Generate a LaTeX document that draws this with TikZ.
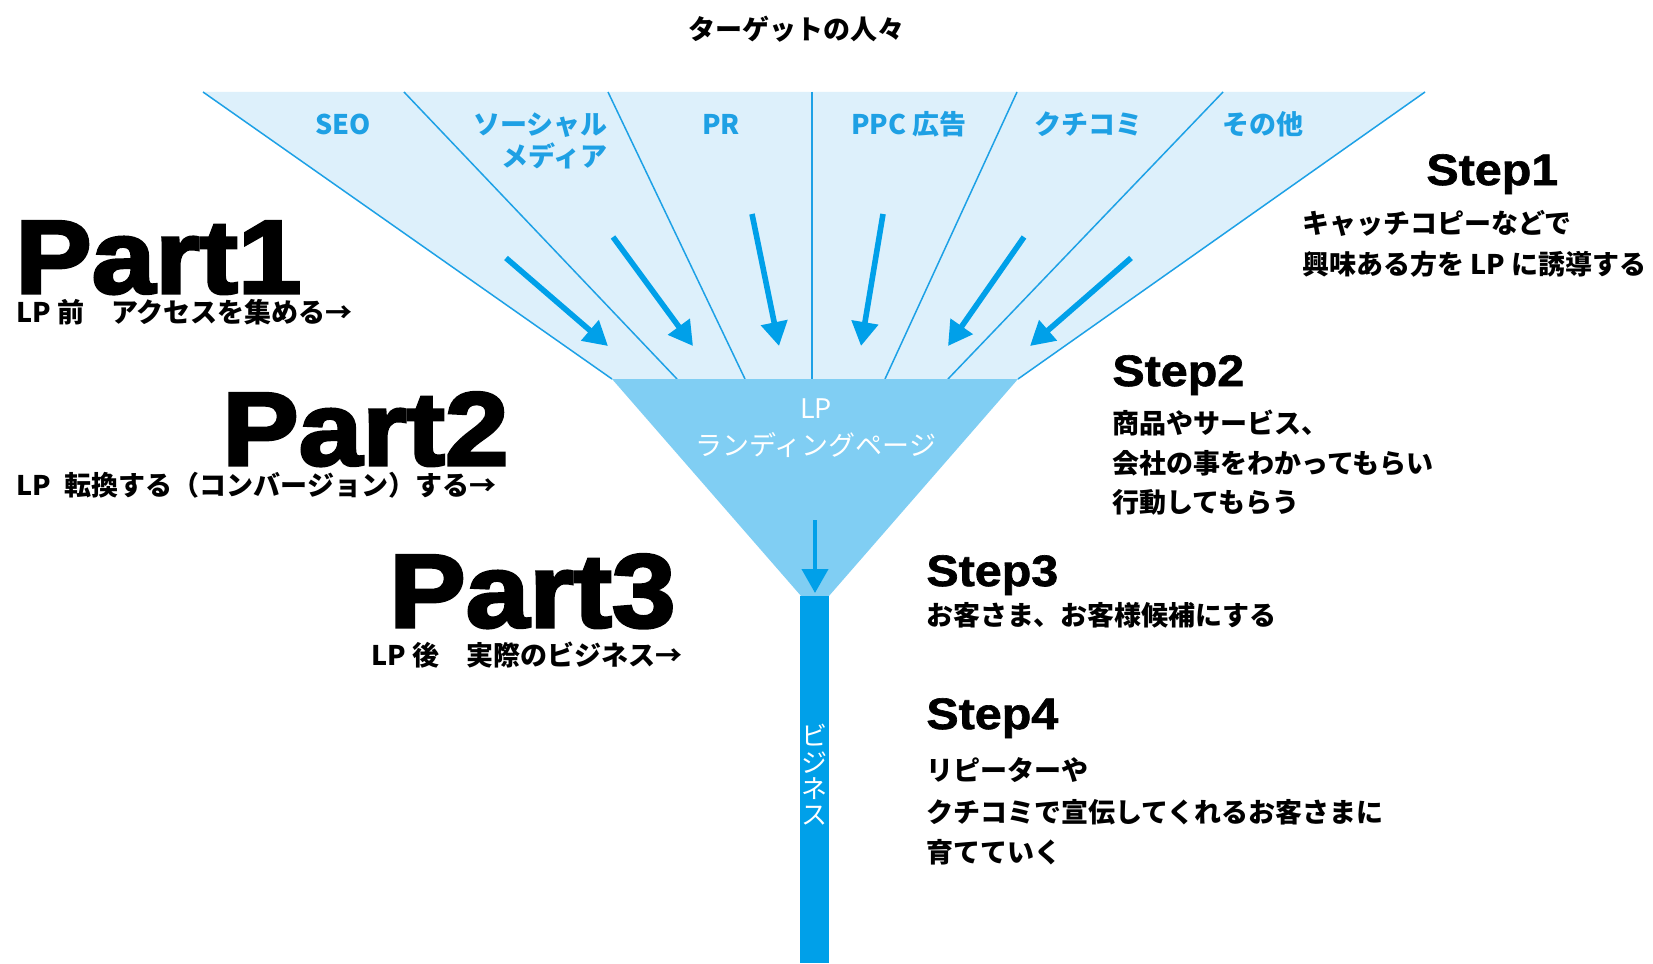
\documentclass[tikz,border=0pt]{standalone}
\usepackage{fontspec}
\usetikzlibrary{arrows.meta}
\setmainfont{Noto Sans CJK JP}
\newfontfamily\heavy[FakeBold=3,FakeStretch=1.1]{Liberation Sans Bold}
\newfontfamily\stepfont[FakeBold=1.5,FakeStretch=1.1]{Liberation Sans Bold}
\definecolor{funnelline}{HTML}{1DA1E6}
\definecolor{lightfill}{HTML}{DDF0FB}
\definecolor{lpfill}{HTML}{80CEF3}
\definecolor{mainblue}{HTML}{00A0E9}
\definecolor{chanblue}{HTML}{1EA0E4}
\begin{document}
\begin{tikzpicture}[x=0.5pt,y=-0.5pt,
  jp/.style={font=\fontsize{13.5}{16}\selectfont\bfseries, inner sep=0pt, text=black},
  chan/.style={font=\fontsize{13.5}{16}\selectfont\bfseries, inner sep=0pt, text=chanblue},
  white txt/.style={font=\fontsize{13.5}{16}\selectfont, inner sep=0pt, text=white},
  parttitle/.style={font=\heavy\fontsize{52}{52}\selectfont, inner sep=0pt, anchor=base west, text depth=0pt},
  steptitle/.style={font=\stepfont\fontsize{22}{22}\selectfont, inner sep=0pt, anchor=base west},
  fline/.style={draw=funnelline, line width=0.75pt},
  bigarrow/.style={draw=mainblue, line width=2.8pt, -{Triangle[width=13pt,length=12pt]}},
  smallarrow/.style={draw=mainblue, line width=2pt, -{Triangle[width=13pt,length=12pt]}}]
\fill[white] (0,0) rectangle (1653,963);
\useasboundingbox (0,0) rectangle (1653,963);

% funnel coordinates
\coordinate (t0) at (203,92);  \coordinate (b0) at (612,379);
\coordinate (t1) at (404,92);  \coordinate (b1) at (677,379);
\coordinate (t2) at (608,92);  \coordinate (b2) at (745,379);
\coordinate (t3) at (812,92);  \coordinate (b3) at (812,379);
\coordinate (t4) at (1017,92); \coordinate (b4) at (885,379);
\coordinate (t5) at (1223,92); \coordinate (b5) at (948,379);
\coordinate (t6) at (1425,92); \coordinate (b6) at (1018,379);
\coordinate (apex) at (815,612);

% upper light region
\fill[lightfill] (t0) -- (t6) -- (b6) -- (b0) -- cycle;
\foreach \i in {0,...,6}{\draw[fline] (t\i) -- (b\i);}

% LP triangle
\fill[lpfill] (b0) -- (b6) -- (apex) -- cycle;

% stem
\fill[mainblue] (800,596) rectangle (829,963);

% big arrows
\coordinate (a1s) at (506,258);  \coordinate (a1e) at (608,346);
\coordinate (a2s) at (613,237);  \coordinate (a2e) at (693,346);
\coordinate (a3s) at (752,214);  \coordinate (a3e) at (779,346);
\coordinate (a4s) at (883,214);  \coordinate (a4e) at (861,346);
\coordinate (a5s) at (1024,237); \coordinate (a5e) at (948,346);
\coordinate (a6s) at (1131,258); \coordinate (a6e) at (1030,346);
\foreach \i in {1,...,6}{\draw[bigarrow] (a\i s) -- (a\i e);}

% LP arrow
\coordinate (ls) at (815,520); \coordinate (le) at (815,593);
\draw[smallarrow] (ls) -- (le);

% title
\node[jp, anchor=base] (title) at (796,40) {ターゲットの人々};

% channel labels
\node[chan, anchor=base] (seo) at (343,134) {SEO};
\node[chan, anchor=base east] (social1) at (608,134) {ソーシャル};
\node[chan, anchor=base east] (social2) at (608,166) {メディア};
\node[chan, anchor=base] (pr) at (721,134) {PR};
\node[chan, anchor=base] (ppc) at (909,134) {PPC 広告};
\node[chan, anchor=base] (kuchi) at (1088,134) {クチコミ};
\node[chan, anchor=base] (other) at (1263,134) {その他};

% LP text
\node[white txt, anchor=base] (lp1) at (816,418) {LP};
\node[white txt, anchor=base] (lp2) at (816,455) {ランディングページ};

% business
\node[white txt, align=center, font=\fontsize{13}{13.2}\selectfont] (biz) at (814,775) {ビ\\ジ\\ネ\\ス};

% parts
\node[parttitle] (part1) at (15,293) {Part1};
\node[jp, anchor=base west] (part1s) at (16,322) {LP 前　アクセスを集める→};
\node[parttitle] (part2) at (222,465) {Part2};
\node[jp, anchor=base west] (part2s) at (16,495) {LP\enspace 転換する（コンバージョン）する→};
\node[parttitle] (part3) at (389,627) {Part3};
\node[jp, anchor=base west] (part3s) at (371,665) {LP 後　実際のビジネス→};

% steps
\node[steptitle] (step1) at (1426,185) {Step1};
\node[jp, anchor=base west] (s1a) at (1302,233) {キャッチコピーなどで};
\node[jp, anchor=base west] (s1b) at (1302,274) {興味ある方を LP に誘導する};
\node[steptitle] (step2) at (1112,386) {Step2};
\node[jp, anchor=base west] (s2a) at (1112,433) {商品やサービス、};
\node[jp, anchor=base west] (s2b) at (1112,473) {会社の事をわかってもらい};
\node[jp, anchor=base west] (s2c) at (1112,512) {行動してもらう};
\node[steptitle] (step3) at (926,586) {Step3};
\node[jp, anchor=base west] (s3a) at (926,625) {お客さま、お客様候補にする};
\node[steptitle] (step4) at (926,729) {Step4};
\node[jp, anchor=base west] (s4a) at (926,780) {リピーターや};
\node[jp, anchor=base west] (s4b) at (926,822) {クチコミで宣伝してくれるお客さまに};
\node[jp, anchor=base west] (s4c) at (926,862) {育てていく};
\end{tikzpicture}
\end{document}
